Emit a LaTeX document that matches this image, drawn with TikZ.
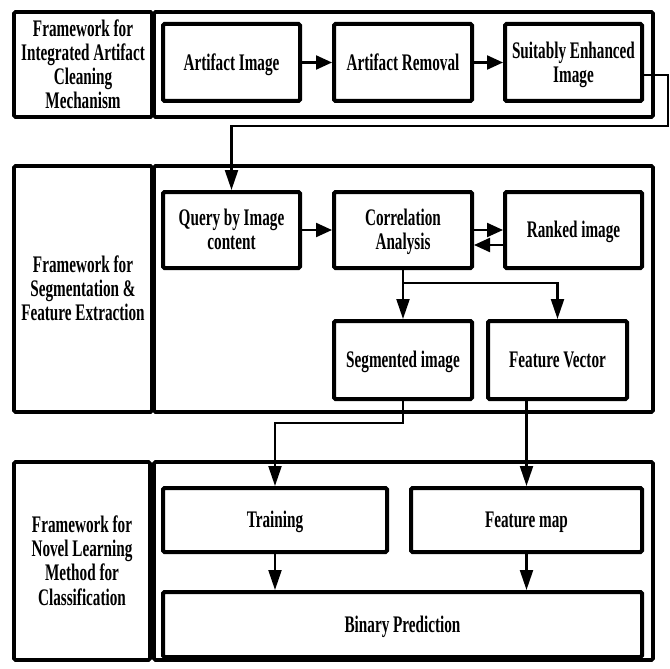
\documentclass[tikz,border=0pt]{standalone}
\usepackage{fontspec}
\usepackage{graphicx}
\setmainfont{Liberation Serif}[FakeStretch=0.8]
\usetikzlibrary{arrows.meta,calc}
\newcommand{\stt}[1]{\raisebox{-3pt}[\height][\depth]{\scalebox{1}[1.25]{\begin{tabular}{@{}c@{}}#1\end{tabular}}}}
\begin{document}
\begin{tikzpicture}[x=1pt,y=-1pt,
  font=\bfseries\fontsize{19}{19.3}\selectfont,
  box/.style={draw, line width=4pt, rounded corners=1.5pt, inner sep=0pt, align=center},
  frame/.style={draw, line width=3.6pt, rounded corners=1.5pt, inner sep=0pt, align=center},
  arrh/.style={line width=2.2pt, -{Triangle[length=16pt,width=14pt]}},
  arrv/.style={line width=2.2pt, -{Triangle[length=20pt,width=13pt]}}]
\useasboundingbox (0,0) rectangle (670,669);
% Section 1
\node[frame, minimum width=138pt, minimum height=105pt] (l1) at (83,64.5) {\stt{Framework for\\Integrated Artifact\\Cleaning\\Mechanism}};
\node[frame, minimum width=499pt, minimum height=105pt] (c1) at (403.5,64.5) {};
\node[box, minimum width=137pt, minimum height=77pt] (ai) at (231.5,62.5) {\stt{Artifact Image}};
\node[box, minimum width=138pt, minimum height=77pt] (ar) at (403,62.5) {\stt{Artifact Removal}};
\node[box, minimum width=137pt, minimum height=77pt] (se) at (573.5,62.5) {\stt{Suitably Enhanced\\Image}};
% Section 2
\node[frame, minimum width=138pt, minimum height=246pt] (l2) at (83,289) {\stt{Framework for\\Segmentation \&\\Feature Extraction}};
\node[frame, minimum width=499pt, minimum height=246pt] (c2) at (403.5,289) {};
\node[box, minimum width=137pt, minimum height=76pt] (qb) at (231.5,230) {\stt{Query by Image\\content}};
\node[box, minimum width=138pt, minimum height=76pt] (co) at (403,230) {\stt{Correlation\\Analysis}};
\node[box, minimum width=137pt, minimum height=76pt] (rk) at (573.5,230) {\stt{Ranked image}};
\node[box, minimum width=138pt, minimum height=78pt] (sg) at (403,360) {\stt{Segmented image}};
\node[box, minimum width=139pt, minimum height=78pt] (fv) at (557.5,360) {\stt{Feature Vector}};
% Section 3
\node[frame, minimum width=136pt, minimum height=198pt] (l3) at (82,561) {\stt{Framework for\\Novel Learning\\Method for\\Classification}};
\node[frame, minimum width=499pt, minimum height=198pt] (c3) at (403.5,561) {};
\node[box, minimum width=224pt, minimum height=64pt] (tr) at (275,520) {\stt{Training}};
\node[box, minimum width=231pt, minimum height=64pt] (fm) at (526.5,520) {\stt{Feature map}};
\node[box, minimum width=479pt, minimum height=65pt] (bp) at (402.5,624.5) {\stt{Binary Prediction}};
% connectors
\draw[arrh] (ai.east) -- (ar.west);
\draw[arrh] (ar.east) -- (se.west);
\coordinate (t1) at (668,126);
\draw[arrv] ([yshift=-12.5pt]se.east) -| (t1) -| (qb.north);
\draw[arrh] (qb.east) -- (co.west);
\draw[arrh] (co.east) -- (rk.west);
\draw[arrh] ([yshift=-15pt]rk.west) -- ([yshift=-15pt]co.east);
\coordinate (br) at (403,283);
\draw[arrv] (co.south) -- (sg.north);
\draw[arrv] (br) -| (fv.north);
\coordinate (sgc) at (403,423);
\draw[arrv] (sg.south) -- (sgc) -| (tr.north);
\draw[arrv] (fm.north |- fv.south) -- (fm.north);
\draw[arrv] (tr.south) -- (tr.south |- bp.north);
\draw[arrv] (fm.south) -- (fm.south |- bp.north);
\end{tikzpicture}
\end{document}
